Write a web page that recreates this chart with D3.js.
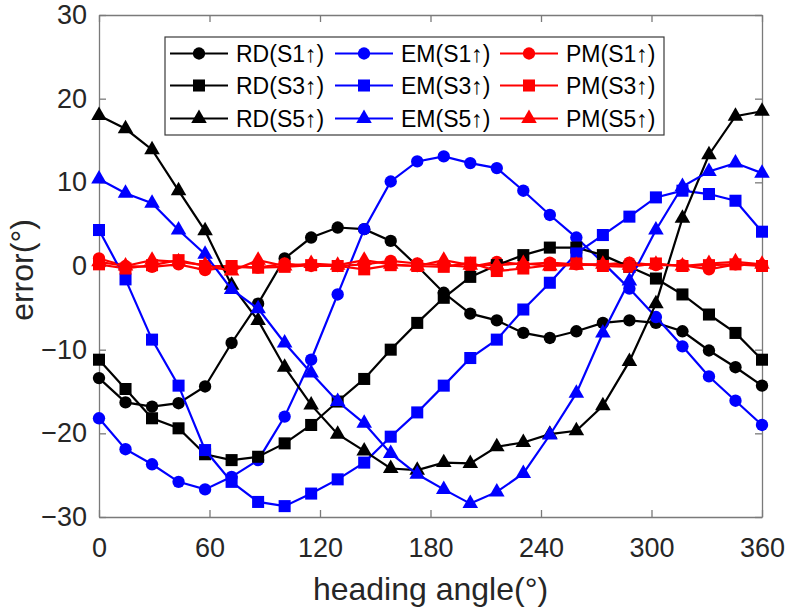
<!DOCTYPE html>
<html>
<head>
<meta charset="utf-8">
<script src="https://cdn.jsdelivr.net/npm/d3@7"></script>
<style>
  body { margin: 0; background: #fff; }
  svg { font-family: "Liberation Sans", Arial, sans-serif; }
</style>
</head>
<body>
<div id="wrapper"></div>
<script>
// heading angles: 26 samples from 0 to 360
const angles = d3.range(26).map(i => i * 14.4)
const xTicks = [0, 60, 120, 180, 240, 300, 360]
const yTicks = [-30, -20, -10, 0, 10, 20, 30]

const rdS1 = [-13.4, -16.3, -16.8, -16.4, -14.4, -9.2, -4.5, 0.9, 3.4, 4.6, 4.4, 3.0, 0.0, -3.2, -5.7, -6.5, -8.0, -8.6, -7.8, -6.8, -6.5, -6.8, -7.8, -10.1, -12.1, -14.3]
const emS1 = [-18.2, -21.9, -23.7, -25.8, -26.7, -25.2, -23.2, -18.0, -11.2, -3.4, 4.4, 10.1, 12.5, 13.1, 12.3, 11.7, 9.0, 6.1, 3.4, 0.4, -2.7, -6.1, -9.6, -13.2, -16.1, -19.0]
const pmS1 = [0.9, 0.0, -0.1, 0.2, -0.5, -0.1, -0.2, 0.3, 0.0, 0.0, 0.2, 0.6, 0.3, 0.1, -0.1, 0.5, 0.2, 0.4, 0.2, 0.2, 0.4, 0.1, 0.1, -0.4, 0.2, 0.1]
const rdS3 = [-11.2, -14.7, -18.2, -19.4, -22.5, -23.2, -22.8, -21.2, -19.0, -16.2, -13.5, -10.0, -6.8, -3.8, -1.3, 0.1, 1.3, 2.2, 2.2, 1.3, -0.1, -1.5, -3.4, -5.8, -8.0, -11.2]
const emS3 = [4.3, -1.6, -8.8, -14.3, -22.0, -25.8, -28.2, -28.7, -27.2, -25.5, -23.5, -20.4, -17.5, -14.3, -11.0, -8.8, -5.2, -2.0, 1.5, 3.7, 5.9, 8.2, 9.0, 8.6, 7.8, 4.1]
const pmS3 = [0.2, -0.3, 0.1, 0.7, 0.0, 0.0, -0.2, -0.1, 0.1, 0.0, -0.4, 0.1, 0.0, -0.1, 0.4, -0.6, -0.3, 0.1, 0.3, 0.0, -0.1, 0.3, 0.0, 0.1, 0.2, 0.0]
const rdS5 = [18.0, 16.4, 13.9, 9.0, 4.2, -2.3, -6.5, -12.1, -16.6, -20.1, -22.1, -24.2, -24.4, -23.5, -23.6, -21.6, -21.1, -20.1, -19.7, -16.7, -11.4, -4.5, 5.7, 13.3, 17.9, 18.5]
const emS5 = [10.4, 8.7, 7.5, 4.3, 1.4, -2.8, -5.1, -9.2, -12.8, -16.2, -18.8, -22.4, -24.9, -26.7, -28.4, -27.0, -24.8, -20.2, -15.2, -8.0, -1.8, 4.3, 9.5, 11.3, 12.3, 11.1]
const pmS5 = [0.5, 0.0, 0.7, 0.5, 0.1, -0.6, 0.7, 0.0, 0.3, 0.1, 0.7, 0.2, 0.0, 0.7, 0.1, 0.1, 0.3, 0.0, 0.1, 0.2, 0.1, 0.2, 0.0, 0.3, 0.5, 0.2]

const seriesNames = ["RD(S1↑)", "EM(S1↑)", "PM(S1↑)", "RD(S3↑)", "EM(S3↑)", "PM(S3↑)", "RD(S5↑)", "EM(S5↑)", "PM(S5↑)"]
const seriesValues = [rdS1, emS1, pmS1, rdS3, emS3, pmS3, rdS5, emS5, pmS5]
const seriesColors = ["#000000", "#0000ff", "#ff0000"]
const seriesShapes = [d3.symbolCircle, d3.symbolSquare, d3.symbolTriangle]
const shapeSizes = [120, 145, 105]

const series = seriesNames.map((name, i) => ({
  name: name,
  color: seriesColors[i % 3],
  shape: seriesShapes[Math.floor(i / 3)],
  size: shapeSizes[Math.floor(i / 3)],
  points: angles.map((a, j) => ({angle: a, value: seriesValues[i][j]}))
}))

let dimensions = {
  width: 792,
  height: 616,
  margin: {top: 15, right: 30, bottom: 99, left: 99}
}
dimensions.boundedWidth = dimensions.width - dimensions.margin.left - dimensions.margin.right
dimensions.boundedHeight = dimensions.height - dimensions.margin.top - dimensions.margin.bottom

const wrapper = d3.select("#wrapper")
  .append("svg")
    .attr("width", dimensions.width)
    .attr("height", dimensions.height)

const bounds = wrapper.append("g")
    .attr("transform", `translate(${dimensions.margin.left},${dimensions.margin.top})`)

const xScale = d3.scaleLinear()
    .domain([0, 360])
    .range([0, dimensions.boundedWidth])

const yScale = d3.scaleLinear()
    .domain([-30, 30])
    .range([dimensions.boundedHeight, 0])

const axisColor = "#262626"
const frameColor = "#7a7a7a"

// axes: ticks point inwards, mirrored on top and right
const xAxis = bounds.append("g")
    .attr("transform", `translate(0,${dimensions.boundedHeight})`)
    .call(d3.axisBottom(xScale).tickValues(xTicks).tickSize(-7).tickPadding(21).tickSizeOuter(0))
const yAxis = bounds.append("g")
    .call(d3.axisLeft(yScale).tickValues(yTicks).tickSize(-7).tickPadding(12).tickSizeOuter(0))
const xAxisTop = bounds.append("g")
    .call(d3.axisTop(xScale).tickValues(xTicks).tickSize(-7).tickFormat("").tickSizeOuter(0))
const yAxisRight = bounds.append("g")
    .attr("transform", `translate(${dimensions.boundedWidth},0)`)
    .call(d3.axisRight(yScale).tickValues(yTicks).tickSize(-7).tickFormat("").tickSizeOuter(0))

;[xAxis, yAxis, xAxisTop, yAxisRight].forEach(ax => {
  ax.select(".domain").attr("stroke", frameColor).attr("stroke-width", 1.3)
  ax.selectAll(".tick line").attr("stroke", frameColor).attr("stroke-width", 1.3)
  ax.selectAll(".tick text")
    .attr("fill", axisColor)
    .style("font-size", "27px")
    .style("font-family", "'Liberation Sans', Arial, sans-serif")
})

const lineGenerator = d3.line()
    .x(d => xScale(d.angle))
    .y(d => yScale(d.value))

const seriesGroups = bounds.selectAll(".series")
  .data(series)
  .enter().append("g")
    .attr("class", "series")

seriesGroups.append("path")
    .attr("d", d => lineGenerator(d.points))
    .attr("fill", "none")
    .attr("stroke", d => d.color)
    .attr("stroke-width", 2.2)

seriesGroups.each(function(s) {
  d3.select(this).selectAll("path.marker")
    .data(s.points)
    .enter().append("path")
      .attr("class", "marker")
      .attr("transform", d => `translate(${xScale(d.angle)},${yScale(d.value)})`)
      .attr("d", d3.symbol().type(s.shape).size(s.size))
      .attr("fill", s.color)
})

// legend, three columns filled row by row
const legend = wrapper.append("g")
    .attr("transform", "translate(165,37)")

legend.append("rect")
    .attr("width", 499)
    .attr("height", 98)
    .attr("fill", "#fff")
    .attr("stroke", "#3a3a3a")
    .attr("stroke-width", 1.2)

const colX = [5, 170, 335]
const rowY = [16.5, 48.5, 81.5]

const legendItems = legend.selectAll(".item")
  .data(series)
  .enter().append("g")
    .attr("class", "item")
    .attr("transform", (d, i) => `translate(${colX[i % 3]},${rowY[Math.floor(i / 3)]})`)

legendItems.append("line")
    .attr("x1", 0)
    .attr("x2", 58)
    .attr("stroke", d => d.color)
    .attr("stroke-width", 2.2)

legendItems.append("path")
    .attr("transform", "translate(29,0)")
    .attr("d", d => d3.symbol().type(d.shape).size(d.size)())
    .attr("fill", d => d.color)

legendItems.append("text")
    .attr("x", 66)
    .attr("y", 8)
    .attr("fill", "#000")
    .style("font-size", "23px")
    .text(d => d.name)

// axis titles
wrapper.append("text")
    .attr("x", dimensions.margin.left + dimensions.boundedWidth / 2)
    .attr("y", 600)
    .attr("text-anchor", "middle")
    .attr("fill", axisColor)
    .style("font-size", "32px")
    .text("heading angle(°)")

wrapper.append("text")
    .attr("transform", `translate(33,270) rotate(-90)`)
    .attr("text-anchor", "middle")
    .attr("fill", axisColor)
    .style("font-size", "32px")
    .text("error(°)")
</script>
</body>
</html>
